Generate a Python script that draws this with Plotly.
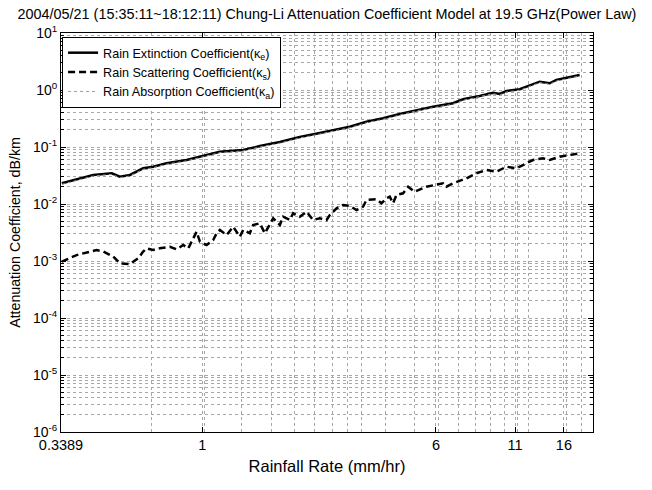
import plotly.graph_objects as go

# ---- data ----
rain_e = [0.341, 0.392, 0.434, 0.5, 0.532, 0.575, 0.636, 0.687, 0.761, 0.887, 0.983, 1.145,
          1.369, 1.556, 1.814, 2.114, 2.464, 2.872, 3.1, 3.523, 4.001, 4.547, 5.168, 5.868,
          6.84, 7.385, 8.392, 9.292, 9.782, 10.297, 11.401, 12.309, 13.289, 14.347, 15.102, 18.053]
kappa_e = [0.0231, 0.0282, 0.0323, 0.0346, 0.0301, 0.0323, 0.0423, 0.0451, 0.0518, 0.0592, 0.0676, 0.0828,
           0.0886, 0.104, 0.122, 0.150, 0.176, 0.207, 0.227, 0.278, 0.319, 0.379, 0.446, 0.509,
           0.585, 0.687, 0.785, 0.897, 0.851, 0.960, 1.03, 1.22, 1.40, 1.31, 1.50, 1.83]
kappa_a = [0.0221, 0.0269, 0.0309, 0.0331, 0.0289, 0.0311, 0.0406, 0.0434, 0.0499, 0.057, 0.065, 0.0797,
           0.0852, 0.100, 0.117, 0.144, 0.169, 0.199, 0.218, 0.267, 0.306, 0.364, 0.429, 0.489,
           0.562, 0.660, 0.755, 0.862, 0.818, 0.923, 0.99, 1.17, 1.35, 1.26, 1.44, 1.76]

rain_s = [0.341, 0.382, 0.445, 0.469, 0.506, 0.532, 0.575, 0.613, 0.636, 0.653,
          0.687, 0.723, 0.781, 0.822, 0.865, 0.899, 0.958, 0.983, 1.034, 1.088,
          1.117, 1.145, 1.206, 1.268, 1.335, 1.369, 1.441, 1.478, 1.556, 1.617,
          1.723, 1.814, 1.860, 1.958, 2.008, 2.114, 2.225, 2.340, 2.464, 2.594,
          2.660, 2.801, 2.945, 3.1, 3.264, 3.434, 3.523, 3.804, 3.953, 4.107,
          4.212, 4.320, 4.434, 4.664, 4.847, 5.101, 5.580, 6.024, 6.337, 6.504,
          6.84, 7.578, 8.183, 8.835, 9.537, 10.30, 11.12, 11.69, 12.62, 13.63,
          14.347, 15.49, 18.053]
kappa_s = [0.000972, 0.00127, 0.00156, 0.00146, 0.00119, 0.000911, 0.000886, 0.00112, 0.00146, 0.00167,
           0.00156, 0.00167, 0.00178, 0.0016, 0.00191, 0.00167, 0.00327, 0.00218, 0.00191, 0.00234,
           0.00306, 0.0035, 0.00286, 0.004, 0.00267, 0.0035, 0.00306, 0.00428, 0.00459, 0.00306,
           0.00561, 0.00428, 0.00599, 0.00524, 0.00687, 0.00599, 0.00733, 0.00524, 0.00561, 0.00524,
           0.00641, 0.00841, 0.0096, 0.00922, 0.00785, 0.00897, 0.0118, 0.0121, 0.0103, 0.0126,
           0.0134, 0.0103, 0.0144, 0.0154, 0.0201, 0.0164, 0.0201, 0.0215, 0.0231, 0.0201,
           0.0231, 0.0282, 0.0346, 0.0395, 0.0369, 0.0451, 0.0423, 0.0483, 0.0591, 0.0634,
           0.0591, 0.0676, 0.0775]

x_ticks = [0.3389, 1, 6, 11, 16]
x_ticklabels = ["0.3389", "1", "6", "11", "16"]
x_minor = [0.678, 1.017, 1.356, 1.695, 2.034, 2.372, 2.711, 3.05, 3.389,
           4.07, 5.08, 6.1, 7.12, 8.13, 9.15, 10.17, 11.18, 12.2, 16.27, 18.3]
y_ticks = [1e-6, 1e-5, 1e-4, 1e-3, 1e-2, 1e-1, 1, 10]
y_ticklabels = ["10<sup>-6</sup>", "10<sup>-5</sup>", "10<sup>-4</sup>", "10<sup>-3</sup>",
                "10<sup>-2</sup>", "10<sup>-1</sup>", "10<sup>0</sup>", "10<sup>1</sup>"]

title = "2004/05/21 (15:35:11~18:12:11) Chung-Li Attenuation Coefficient Model at 19.5 GHz(Power Law)"
FONT = "Liberation Sans, Arial, sans-serif"

fig = go.Figure()
fig.add_trace(go.Scatter(x=rain_e, y=kappa_e, mode="lines",
                         name="Rain Extinction Coefficient(κ<sub>e</sub>)",
                         line=dict(color="black", width=2.5)))
fig.add_trace(go.Scatter(x=rain_s, y=kappa_s, mode="lines",
                         name="Rain Scattering Coefficient(κ<sub>s</sub>)",
                         line=dict(color="black", width=2.5, dash="7px,4px")))
fig.add_trace(go.Scatter(x=rain_e, y=kappa_a, mode="lines",
                         name="Rain Absorption Coefficient(κ<sub>a</sub>)",
                         line=dict(color="#9a9a9a", width=1, dash="dot")))

grid = dict(gridcolor="#a8a8a8", griddash="dot", gridwidth=1)

fig.update_layout(
    width=652, height=490,
    margin=dict(l=61, r=59, t=33, b=58),
    paper_bgcolor="white", plot_bgcolor="white",
    font=dict(family=FONT, color="black", size=14),
    title=dict(text=title, x=0.5015, xanchor="center", y=0.972, yanchor="middle",
               font=dict(size=14.4, family=FONT, color="black")),
    showlegend=True,
    legend=dict(x=0.002, y=0.99, xanchor="left", yanchor="top",
                bgcolor="white", bordercolor="black", borderwidth=1,
                font=dict(size=12.6, family=FONT, color="black"),
                tracegroupgap=0, itemwidth=30),
    xaxis=dict(type="log", range=[-0.46995, 1.30103],
               tickmode="array", tickvals=x_ticks, ticktext=x_ticklabels,
               ticks="inside", ticklen=5, tickcolor="black",
               showline=True, linecolor="black", linewidth=1, mirror="allticks",
               showgrid=True, **grid,
               minor=dict(tickmode="array", tickvals=x_minor, ticks="", showgrid=True, **grid),
               tickfont=dict(size=14.5),
               title=dict(text="Rainfall Rate (mm/hr)", font=dict(size=16.5), standoff=8),
               zeroline=False),
    yaxis=dict(type="log", range=[-6, 1],
               tickmode="array", tickvals=y_ticks, ticktext=y_ticklabels,
               ticks="inside", ticklen=5, tickcolor="black",
               showline=True, linecolor="black", linewidth=1, mirror="allticks",
               showgrid=True, **grid,
               minor=dict(dtick="D1", ticks="inside", ticklen=3, tickcolor="black",
                          showgrid=True, **grid),
               tickfont=dict(size=14),
               title=dict(text="Attenuation Coefficient, dB/km", font=dict(size=14.2), standoff=8),
               zeroline=False),
)

fig.write_html("out.html")
